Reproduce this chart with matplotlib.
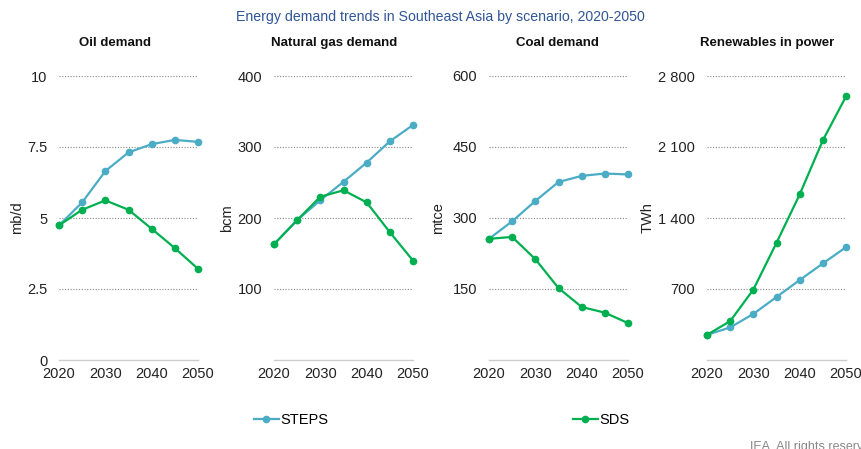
import numpy as np
import matplotlib.pyplot as plt
from matplotlib.lines import Line2D

plt.rcParams['font.family'] = ['Liberation Sans', 'DejaVu Sans']

years = [2020, 2025, 2030, 2035, 2040, 2045, 2050]

oil_steps = [4.74, 5.55, 6.65, 7.31, 7.60, 7.75, 7.68]
oil_sds = [4.74, 5.29, 5.62, 5.29, 4.62, 3.94, 3.21]

gas_steps = [163, 197, 225, 251, 278, 308, 331]
gas_sds = [163, 197, 230, 239, 222, 180, 140]

coal_steps = [256, 293, 336, 376, 389, 394, 392]
coal_sds = [256, 260, 213, 152, 112, 100, 78]

ren_steps = [248, 321, 454, 621, 788, 952, 1112]
ren_sds = [248, 383, 694, 1155, 1632, 2166, 2598]

titles = ['Oil demand', 'Natural gas demand', 'Coal demand', 'Renewables in power']
units = ['mb/d', 'bcm', 'mtce', 'TWh']
yticks = [[0, 2.5, 5, 7.5, 10], [100, 200, 300, 400], [150, 300, 450, 600], [700, 1400, 2100, 2800]]
ytick_labels = [['0', '2.5', '5', '7.5', '10'], ['100', '200', '300', '400'],
                ['150', '300', '450', '600'], ['700', '1 400', '2 100', '2 800']]
ylims = [(0, 10), (0, 400), (0, 600), (0, 2800)]
xticks = [2020, 2030, 2040, 2050]

steps_col = '#4bacc6'
sds_col = '#00b050'
title_col = '#2f5597'

fig = plt.figure(figsize=(8.61, 4.49), dpi=100)

W, H = 861, 449
lefts = [59, 274, 489, 707]
title_x = [115, 334, 557, 767]
ylab_x = [17, 227, 438, 648]
series = [(oil_steps, oil_sds), (gas_steps, gas_sds), (coal_steps, coal_sds), (ren_steps, ren_sds)]

for i in range(4):
    ax = fig.add_axes([lefts[i] / W, 1 - 360 / H, 139 / W, 284 / H])
    st, sd = series[i]
    ax.plot(years, st, color=steps_col, lw=1.6, marker='o', ms=4.5, clip_on=False, zorder=3)
    ax.plot(years, sd, color=sds_col, lw=1.6, marker='o', ms=4.5, clip_on=False, zorder=4)
    ax.set_xlim(2020, 2050)
    ax.set_ylim(*ylims[i])
    ax.set_yticks(yticks[i])
    ax.set_yticklabels(ytick_labels[i])
    ax.set_xticks(xticks)
    ax.tick_params(length=0, labelsize=10.5, colors='#222222')
    ax.tick_params(axis='y', pad=8.5)
    ax.tick_params(axis='x', pad=5)
    for s in ['top', 'right', 'left']:
        ax.spines[s].set_visible(False)
    ax.spines['bottom'].set_color('#cccccc')
    ax.spines['bottom'].set_linewidth(1.0)
    for t in yticks[i]:
        if t > 0:
            ax.axhline(t, color='#888888', lw=0.8, ls=(0, (1, 1.5)), zorder=1)
    fig.text(title_x[i] / W, 1 - 43 / H, titles[i], ha='center', va='center',
             fontsize=9.5, fontweight='bold', color='#111111')
    fig.text(ylab_x[i] / W, 1 - 218 / H, units[i], ha='center', va='center',
             rotation=90, fontsize=10.5, color='#222222')

fig.text(440 / W, 1 - 17 / H, 'Energy demand trends in Southeast Asia by scenario, 2020-2050',
         ha='center', va='center', fontsize=10.2, color=title_col)

h_steps = Line2D([], [], color=steps_col, lw=1.6, marker='o', ms=4.5)
h_sds = Line2D([], [], color=sds_col, lw=1.6, marker='o', ms=4.5)
for h, lab, xc in [(h_steps, 'STEPS', 291), (h_sds, 'SDS', 601)]:
    fig.legend([h], [lab], loc='center', bbox_to_anchor=(xc / W, 1 - 420 / H), frameon=False,
               fontsize=10.5, handlelength=1.7, handletextpad=0.1)

fig.text(750 / W, 1 - 447 / H, 'IEA. All rights reserved.', ha='left', va='center',
         fontsize=9, color='#888888')

fig.savefig('out.png', dpi=100)
